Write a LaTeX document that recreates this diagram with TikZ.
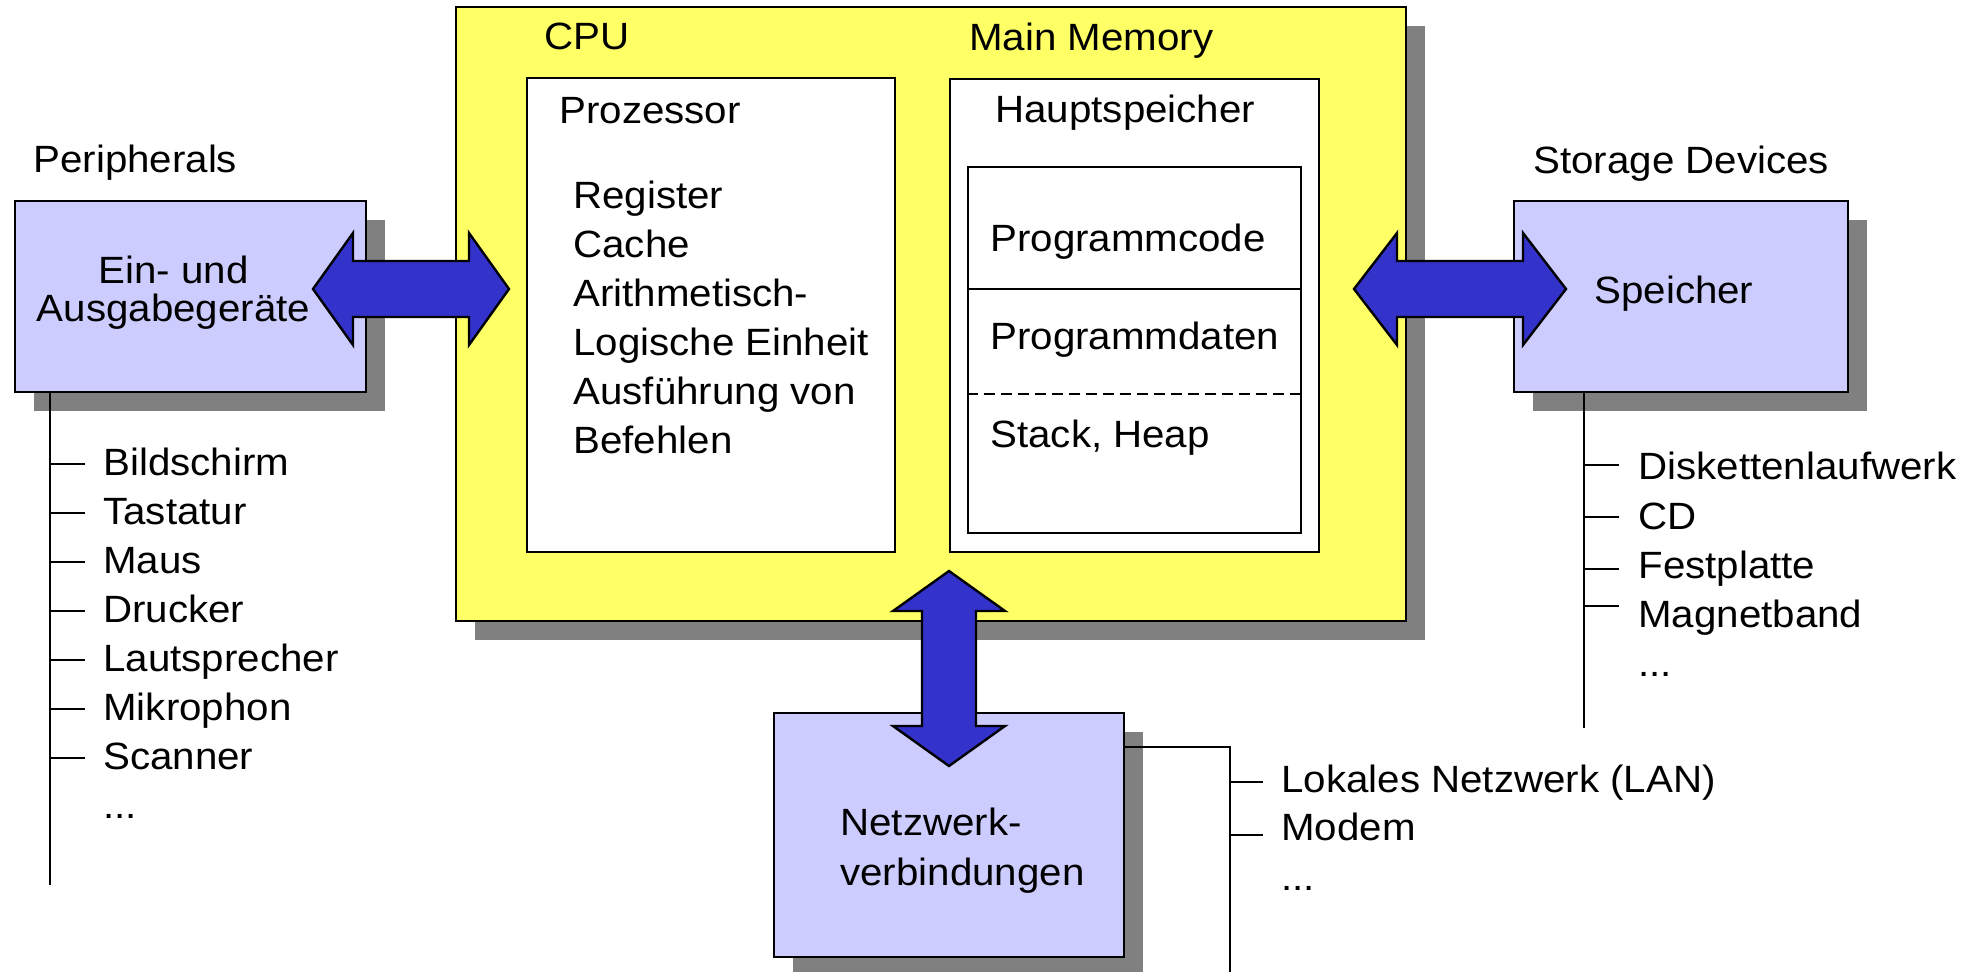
\documentclass[tikz,border=0pt]{standalone}
\usepackage{fontspec}
\setmainfont{Liberation Sans}[FakeStretch=1.06]
\usetikzlibrary{fit}
\definecolor{lav}{HTML}{CCCCFF}
\definecolor{cpuyellow}{HTML}{FFFF66}
\definecolor{arrowblue}{HTML}{3333CC}
\definecolor{shadowgray}{HTML}{808080}

% horizontal double block arrow: left tip x, right tip x, y, head length
\newcommand\hdblarrow[4]{%
  \draw[blockarrow] (#1,#3) -- ({#1+#4},{#3-56}) -- ({#1+#4},{#3-28}) -- ({#2-#4},{#3-28})
    -- ({#2-#4},{#3-56}) -- (#2,#3) -- ({#2-#4},{#3+56}) -- ({#2-#4},{#3+28})
    -- ({#1+#4},{#3+28}) -- ({#1+#4},{#3+56}) -- cycle;}
% vertical double block arrow: x, top tip y, bottom tip y, head length
\newcommand\vdblarrow[4]{%
  \draw[blockarrow] (#1,#2) -- ({#1+56},{#2+#4}) -- ({#1+27},{#2+#4}) -- ({#1+27},{#3-#4})
    -- ({#1+56},{#3-#4}) -- (#1,#3) -- ({#1-56},{#3-#4}) -- ({#1-27},{#3-#4})
    -- ({#1-27},{#2+#4}) -- ({#1-56},{#2+#4}) -- cycle;}

\begin{document}
\begin{tikzpicture}[x=0.5pt,y=-0.5pt,
  lbl/.style={font=\fontsize{19}{24.5}\selectfont, inner sep=0pt, anchor=base west},
  box/.style={draw, line width=1.3pt, inner sep=0pt},
  devbox/.style={box, fill=lav},
  cpubox/.style={box, fill=cpuyellow},
  whitebox/.style={box, fill=white},
  shade/.style={fill=shadowgray},
  wire/.style={line width=1.25pt},
  blockarrow/.style={draw=black, line width=1.2pt, fill=arrowblue, line join=miter},
]
\fill[white] (0,0) rectangle (1984,972);
\useasboundingbox (0,0) rectangle (1984,972);

% drop shadows
\fill[shade] (34,220) rectangle (385,411);
\fill[shade] (475,26) rectangle (1425,640);
\fill[shade] (1533,220) rectangle (1867,411);
\fill[shade] (793,732) rectangle (1143,976);

% main boxes
\node[devbox, fit={(15,201) (366,392)}] (periph) {};
\node[cpubox, fit={(456,7) (1406,621)}] (cpu) {};
\node[devbox, fit={(1514,201) (1848,392)}] (storage) {};
\node[devbox, fit={(774,713) (1124,957)}] (net) {};

% inner boxes of the CPU block
\node[whitebox, fit={(527,78) (895,552)}] (proz) {};
\node[whitebox, fit={(950,79) (1319,552)}] (haupt) {};
\node[whitebox, fit={(968,167) (1301,533)}] (mem) {};
\draw[wire] (mem.west |- 0,289) -- (mem.east |- 0,289);
\draw[wire, dash pattern=on 5.5pt off 3pt] (mem.west |- 0,394) -- (mem.east |- 0,394);

% titles
\node[lbl] (tperiph) at (33,173) {Peripherals};
\node[lbl] (tstorage) at (1533,174) {Storage Devices};
\node[lbl] (tcpu) at (544,50) {CPU};
\node[lbl] (tmm) at (969,51) {Main Memory};
\node[lbl] (tproz) at (559,124) {Prozessor};
\node[lbl] (thaupt) at (995,123) {Hauptspeicher};

% processor contents
\foreach \t [count=\i from 0] in {Register, Cache, Arithmetisch-, Logische Einheit, Ausführung von, Befehlen}
  \node[lbl] (proz\i) at (573,{209+49*\i}) {\t};

% memory contents
\node[lbl] (pcode) at (990,252) {Programmcode};
\node[lbl] (pdata) at (990,350) {Programmdaten};
\node[lbl] (pstack) at (990,448) {Stack, Heap};

% box captions
\node[lbl, anchor=base] (ea1) at (173.5,284) {Ein- und};
\node[lbl, anchor=base] (ea2) at (173.5,322) {Ausgabegeräte};
\node[lbl] (tspeicher) at (1594,304) {Speicher};
\node[lbl] (tnet1) at (840,835) {Netzwerk-};
\node[lbl] (tnet2) at (840,885) {verbindungen};

% peripheral device list
\coordinate (pend) at (50,885);
\draw[wire] (pend |- periph.south) -- (pend);
\foreach \t [count=\i from 0] in {Bildschirm,Tastatur,Maus,Drucker,Lautsprecher,Mikrophon,Scanner} {
  \node[lbl] (per\i) at (103,{475+49*\i}) {\t};
  \draw[wire] (50,{464+49*\i}) -- (85,{464+49*\i});
}
\node[lbl] (perdots) at (103,818) {...};

% storage device list
\coordinate (send) at (1584,728);
\draw[wire] (send |- storage.south) -- (send);
\foreach \t/\b/\k [count=\i] in {Diskettenlaufwerk/480/465, CD/529/517, Festplatte/578/569, Magnetband/627/606} {
  \node[lbl] (sto\i) at (1638,\b) {\t};
  \draw[wire] (1584,\k) -- (1619,\k);
}
\node[lbl] (stodots) at (1638,676) {...};

% network list
\coordinate (nbend) at (1230,747);
\coordinate (nend) at (1230,972);
\draw[wire] (net.east |- nbend) -- (nbend) -- (nend);
\node[lbl] (net1) at (1281,792) {Lokales Netzwerk (LAN)};
\draw[wire] (1230,782) -- (1263,782);
\node[lbl] (net2) at (1281,840) {Modem};
\draw[wire] (1230,835) -- (1263,835);
\node[lbl] (netdots) at (1281,890) {...};

% data paths
\hdblarrow{313}{509}{289}{40}
\hdblarrow{1354}{1566}{289}{43}
\vdblarrow{949}{571}{766}{40}
\end{tikzpicture}
\end{document}
